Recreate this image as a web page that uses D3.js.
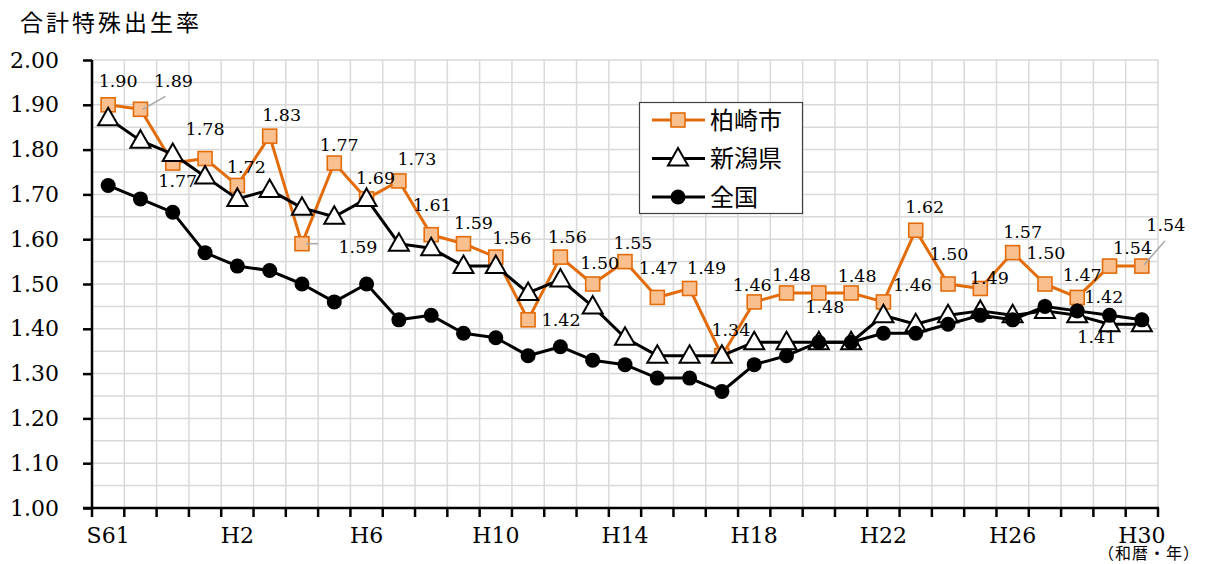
<!DOCTYPE html>
<html>
<head>
<meta charset="utf-8">
<script src="https://cdn.jsdelivr.net/npm/d3@7"></script>
<style>
  html, body { margin: 0; padding: 0; background: #fff; }
  svg { display: block; }
</style>
</head>
<body>
<svg id="chart" width="1206" height="564"></svg>
<script>
// 年（和暦）
const years = ["S61","S62","S63","H1","H2","H3","H4","H5","H6","H7","H8","H9","H10",
  "H11","H12","H13","H14","H15","H16","H17","H18","H19","H20","H21","H22","H23",
  "H24","H25","H26","H27","H28","H29","H30"];

// 合計特殊出生率
const kashiwazaki = [1.90,1.89,1.77,1.78,1.72,1.83,1.59,1.77,1.69,1.73,1.61,1.59,1.56,
  1.42,1.56,1.50,1.55,1.47,1.49,1.34,1.46,1.48,1.48,1.48,1.46,1.62,1.50,1.49,1.57,
  1.50,1.47,1.54,1.54];
const niigata = [1.87,1.82,1.79,1.74,1.69,1.71,1.67,1.65,1.69,1.59,1.58,1.54,1.54,
  1.48,1.51,1.45,1.38,1.34,1.34,1.34,1.37,1.37,1.37,1.37,1.43,1.41,1.43,1.44,1.43,
  1.44,1.43,1.41,1.41];
const national = [1.72,1.69,1.66,1.57,1.54,1.53,1.50,1.46,1.50,1.42,1.43,1.39,1.38,
  1.34,1.36,1.33,1.32,1.29,1.29,1.26,1.32,1.34,1.37,1.37,1.39,1.39,1.41,1.43,1.42,
  1.45,1.44,1.43,1.42];

const yTicks = [1.00,1.10,1.20,1.30,1.40,1.50,1.60,1.70,1.80,1.90,2.00];
const xTickLabels = ["S61","H2","H6","H10","H14","H18","H22","H26","H30"];
const seriesNames = ["柏崎市","新潟県","全国"];

// 柏崎市のデータラベル位置（点からのずれ, px）と引き出し線
const kLabelOffsets = [[10,-24],[33,-28],[5,18],[0,-30],[9,-19],[12,-21],[56,3],[5,-18],
  [9,-21],[18,-22],[1,-30],[10,-21],[16,-19],[33,0],[7,-20],[7,-21],[8,-19],[1,-30],
  [17,-21],[9,-26],[-2,-17],[5,-18],[6,14],[6,-17],[29,-17],[9,-23],[1,-30],[9,-11],
  [10,-21],[1,-31],[5,-23],[23,-18],[24,-41]];
const kLeaders = { 1: [[2,0],[25,-13]], 6: [[4,0],[16,0]], 32: [[2,-1],[23,-25]] };

const svg = d3.select("#chart");
const plotL = 92, plotR = 1158, plotT = 60, plotB = 508;

const x = d3.scaleBand().domain(years).range([plotL, plotR]).paddingInner(0).paddingOuter(0);
const xb = d3.scaleLinear().domain([0, years.length]).range([plotL, plotR]);
const y = d3.scaleLinear().domain([1.0, 2.0]).range([plotB, plotT]);
const cx = d => x(d) + x.bandwidth() / 2;

const serif = "'DejaVu Serif', 'Liberation Serif', serif";
const jp = "'Noto Sans CJK JP', 'Noto Sans', sans-serif";
const orange = "#E36C0A", orangeFill = "#FABF8F";

// グリッド
const grid = svg.append("g");
const hGrid = d3.range(0, 21).map(i => 1 + i * 0.05);
grid.selectAll("line.h").data(hGrid).join("line")
  .attr("x1", plotL).attr("x2", plotR)
  .attr("y1", d => y(d)).attr("y2", d => y(d))
  .attr("stroke", "#D9D9D9").attr("stroke-width", 1.5);
grid.selectAll("line.v").data(d3.range(1, years.length + 1)).join("line")
  .attr("x1", d => xb(d)).attr("x2", d => xb(d))
  .attr("y1", plotT).attr("y2", plotB)
  .attr("stroke", "#D9D9D9").attr("stroke-width", 1.5);

// 軸
const yAxis = svg.append("g").attr("transform", `translate(${plotL},0)`)
  .call(d3.axisLeft(y).tickValues(yTicks).tickFormat(d3.format(".2f")).tickSize(9).tickPadding(24));
yAxis.select(".domain").attr("stroke", "#000").attr("stroke-width", 2.5).attr("d", `M0,${plotT}V${plotB}`);
yAxis.selectAll(".tick line").attr("stroke", "#000").attr("stroke-width", 2.5);
yAxis.selectAll(".tick text").attr("font-family", serif).attr("font-size", 22).attr("fill", "#000");

const xAxis = svg.append("g").attr("transform", `translate(0,${plotB})`)
  .call(d3.axisBottom(x).tickSize(0).tickFormat(d => xTickLabels.includes(d) ? d : ""));
xAxis.select(".domain").remove();
xAxis.selectAll(".tick text").attr("font-family", serif).attr("font-size", 22)
  .attr("fill", "#000").attr("y", 35).attr("dy", 0);
svg.append("line").attr("x1", plotL - 9).attr("x2", plotR + 1)
  .attr("y1", plotB).attr("y2", plotB).attr("stroke", "#000").attr("stroke-width", 2.5);
svg.append("g").selectAll("line").data(d3.range(0, years.length + 1)).join("line")
  .attr("x1", d => xb(d)).attr("x2", d => xb(d))
  .attr("y1", plotB).attr("y2", plotB + 9)
  .attr("stroke", "#000").attr("stroke-width", 2.5);

// 線と記号
const line = d3.line().x((d, i) => cx(years[i])).y(d => y(d));
const triPath = "M0,-10.5L10,7L-10,7Z";

function drawSeries(vals, stroke, marker) {
  const g = svg.append("g");
  g.append("path").datum(vals).attr("d", line)
    .attr("fill", "none").attr("stroke", stroke).attr("stroke-width", 3)
    .attr("stroke-linejoin", "round");
  const m = g.selectAll("g.m").data(vals).join("g")
    .attr("transform", (d, i) => `translate(${cx(years[i])},${y(d)})`);
  marker(m);
}

const squareMarker = s => s.append("rect").attr("x", -7).attr("y", -7).attr("width", 14).attr("height", 14)
  .attr("fill", orangeFill).attr("stroke", orange).attr("stroke-width", 1.6);
const triMarker = s => s.append("path").attr("d", triPath)
  .attr("fill", "#fff").attr("stroke", "#000").attr("stroke-width", 2);
const dotMarker = s => s.append("circle").attr("r", 7.5).attr("fill", "#000");

drawSeries(kashiwazaki, orange, squareMarker);
drawSeries(niigata, "#000", triMarker);
drawSeries(national, "#000", dotMarker);

// データラベル
const lab = svg.append("g").attr("font-family", serif).attr("font-size", 17.5)
  .attr("fill", "#000").attr("text-anchor", "middle");
Object.entries(kLeaders).forEach(([i, pts]) => {
  const px = cx(years[+i]), py = y(kashiwazaki[+i]);
  lab.append("line").attr("x1", px + pts[0][0]).attr("y1", py + pts[0][1])
    .attr("x2", px + pts[1][0]).attr("y2", py + pts[1][1])
    .attr("stroke", "#A6A6A6").attr("stroke-width", 1.5);
});
kashiwazaki.forEach((v, i) => {
  lab.append("text").attr("x", cx(years[i]) + kLabelOffsets[i][0])
    .attr("y", y(v) + kLabelOffsets[i][1]).attr("dy", "0.35em").text(v.toFixed(2));
});
const last = years.length - 1;
lab.append("text").attr("x", cx(years[last]) - 38).attr("y", y(national[last]) - 23)
  .attr("dy", "0.35em").text(national[last].toFixed(2));
lab.append("text").attr("x", cx(years[last]) - 45).attr("y", y(niigata[last]) + 13)
  .attr("dy", "0.35em").text(niigata[last].toFixed(2));

// 凡例
const lg = svg.append("g");
lg.append("rect").attr("x", 639.5).attr("y", 102.5).attr("width", 163).attr("height", 111)
  .attr("fill", "#fff").attr("stroke", "#404040").attr("stroke-width", 1.2);
const legendItems = [
  { name: seriesNames[0], stroke: orange, marker: squareMarker },
  { name: seriesNames[1], stroke: "#000", marker: triMarker },
  { name: seriesNames[2], stroke: "#000", marker: dotMarker }
];
legendItems.forEach((it, k) => {
  const yy = 120 + k * 38.5;
  lg.append("line").attr("x1", 652).attr("x2", 705).attr("y1", yy).attr("y2", yy)
    .attr("stroke", it.stroke).attr("stroke-width", 3);
  it.marker(lg.append("g").attr("transform", `translate(678,${yy})`));
  lg.append("text").attr("x", 710).attr("y", yy).attr("dy", "0.36em")
    .attr("font-family", jp).attr("font-size", 24).attr("fill", "#000").text(it.name);
});

// タイトルと単位
svg.append("text").attr("x", 20).attr("y", 31).attr("font-family", jp)
  .attr("font-size", 23).attr("letter-spacing", 3).attr("fill", "#000").text("合計特殊出生率");
svg.append("text").attr("x", 1098).attr("y", 559).attr("font-family", jp)
  .attr("font-size", 16).attr("letter-spacing", 1).attr("fill", "#000").text("（和暦・年）");
</script>
</body>
</html>
